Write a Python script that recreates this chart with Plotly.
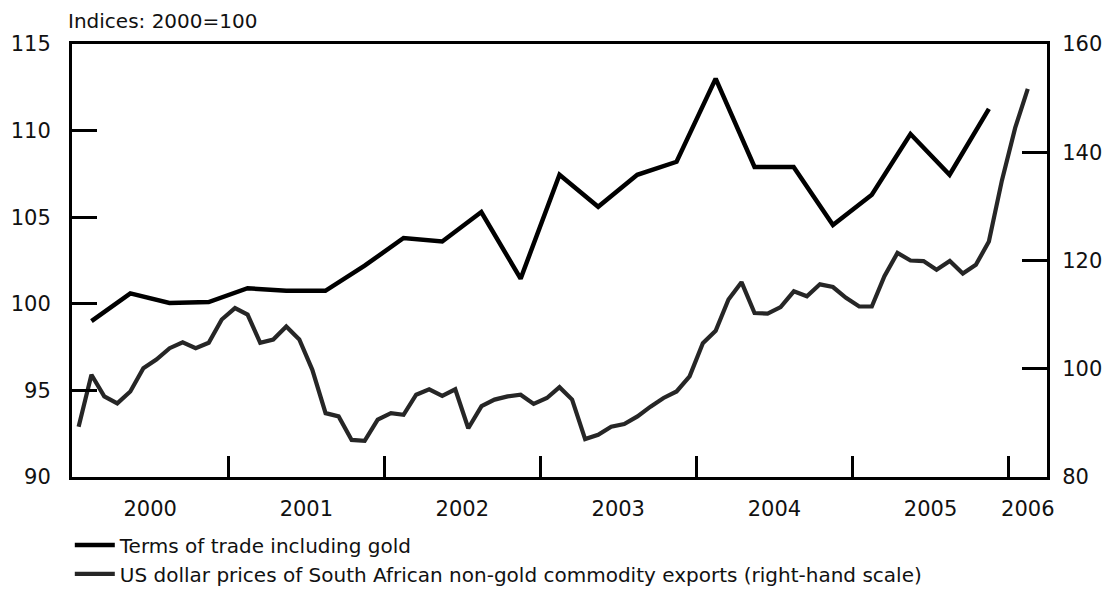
import pandas as pd
import plotly.graph_objects as go

# ---- data -----------------------------------------------------------
tot_quarters = [str(p) for p in pd.period_range("2000Q1", "2005Q4", freq="Q")]
tot_values = [99.0, 100.6, 100.05, 100.1,
              100.9, 100.75, 100.75, 102.2,
              103.8, 103.6, 105.3, 101.45,
              107.45, 105.6, 107.45, 108.2,
              113.0, 107.9, 107.9, 104.55,
              106.3, 109.8, 107.45, 111.25]

com_months = [str(p) for p in pd.period_range("2000-01", "2006-02", freq="M")]
com_values = [89.3, 98.9, 94.9, 93.6, 95.8, 100.1, 101.7, 103.8, 104.9, 103.8, 104.8, 109.1,
              111.2, 110.0, 104.8, 105.4, 107.8, 105.4, 99.8, 91.8, 91.2, 86.85, 86.7, 90.6,
              91.8, 91.5, 95.2, 96.2, 95.0, 96.2, 89.0, 93.1, 94.3, 94.9, 95.2, 93.5,
              94.6, 96.6, 94.3, 87.0, 87.8, 89.3, 89.8, 91.2, 93.0, 94.6, 95.8, 98.6,
              104.7, 107.0, 112.8, 116.0, 110.3, 110.2, 111.4, 114.3, 113.4, 115.6, 115.1, 113.1,
              111.5, 111.5, 117.1, 121.4, 120.0, 119.9, 118.3, 119.9, 117.6, 119.2, 123.5, 134.8,
              144.5, 151.7]

year_labels = ["2000", "2001", "2002", "2003", "2004", "2005", "2006"]
left_ticks = [90, 95, 100, 105, 110, 115]
right_ticks = [80, 100, 120, 140, 160]

series_names = ["Terms of trade including gold",
                "US dollar prices of South African non-gold commodity exports (right-hand scale)"]


def mid(period):
    p = pd.Period(period)
    return p.start_time + (p.end_time - p.start_time) / 2


tot_x = [mid(q) for q in tot_quarters]
com_x = [mid(m) for m in com_months]

x_start = pd.Timestamp("2000-01-01")
x_end = pd.Timestamp("2006-04-01")
year_bounds = [pd.Timestamp(f"{y}-01-01") for y in year_labels[1:]]
label_pos = []
for y in year_labels:
    a = max(pd.Timestamp(f"{y}-01-01"), x_start)
    b = min(pd.Timestamp(f"{int(y)+1}-01-01"), x_end)
    label_pos.append(a + (b - a) / 2)

FONT = "DejaVu Sans"
INK = "#111111"

fig = go.Figure()
fig.add_trace(go.Scatter(x=tot_x, y=tot_values, mode="lines", name=series_names[0],
                         line=dict(color="#000000", width=4.5), yaxis="y", xaxis="x"))
fig.add_trace(go.Scatter(x=com_x, y=com_values, mode="lines", name=series_names[1],
                         line=dict(color="#262626", width=4.2), yaxis="y2", xaxis="x"))
# invisible trace to anchor the label axis
fig.add_trace(go.Scatter(x=[x_start, x_end], y=[None, None], xaxis="x2", yaxis="y",
                         showlegend=False, hoverinfo="skip", mode="lines"))

axis_line = dict(showline=True, linecolor="#000", linewidth=3, showgrid=False, zeroline=False,
                 automargin=False)

fig.update_layout(
    width=1108, height=589,
    margin=dict(l=72, r=61, t=44, b=112, autoexpand=False),
    paper_bgcolor="white", plot_bgcolor="white",
    font=dict(family=FONT, size=21, color=INK),
    showlegend=True,
    legend=dict(xref="container", yref="container", x=0.063, y=0.108,
                xanchor="left", yanchor="top",
                font=dict(family=FONT, size=20, color=INK),
                bgcolor="rgba(0,0,0,0)", tracegroupgap=0, itemwidth=40,
                traceorder="normal"),
    xaxis=dict(range=[x_start, x_end], type="date", tickmode="array", tickvals=year_bounds,
               showticklabels=False, ticks="inside", ticklen=21, tickwidth=3, tickcolor="#000",
               mirror=True, **axis_line),
    xaxis2=dict(range=[x_start, x_end], type="date", overlaying="x", side="bottom",
                tickmode="array", tickvals=label_pos, ticktext=year_labels, ticks="",
                showline=False, showgrid=False, zeroline=False, ticklabelstandoff=17,
                automargin=False, tickfont=dict(family=FONT, size=21, color=INK)),
    yaxis=dict(range=[90, 115], tickmode="array", tickvals=left_ticks, ticks="inside",
               ticklen=25, tickwidth=3, tickcolor="#000", ticklabelstandoff=14,
               tickfont=dict(family=FONT, size=21, color=INK), **axis_line),
    yaxis2=dict(range=[80, 160], overlaying="y", side="right", tickmode="array",
                tickvals=right_ticks, ticks="inside", ticklen=25, tickwidth=3, tickcolor="#000",
                ticklabelstandoff=8, tickfont=dict(family=FONT, size=21, color=INK), **axis_line),
    annotations=[dict(text="Indices: 2000=100", xref="paper", yref="paper", x=-0.006, y=1.0,
                      xanchor="left", yanchor="bottom", yshift=9, showarrow=False,
                      font=dict(family=FONT, size=20, color=INK))],
)

fig.write_html("out.html", config={"displayModeBar": False},
               post_script="document.body.style.margin='0';document.body.style.padding='0';")
